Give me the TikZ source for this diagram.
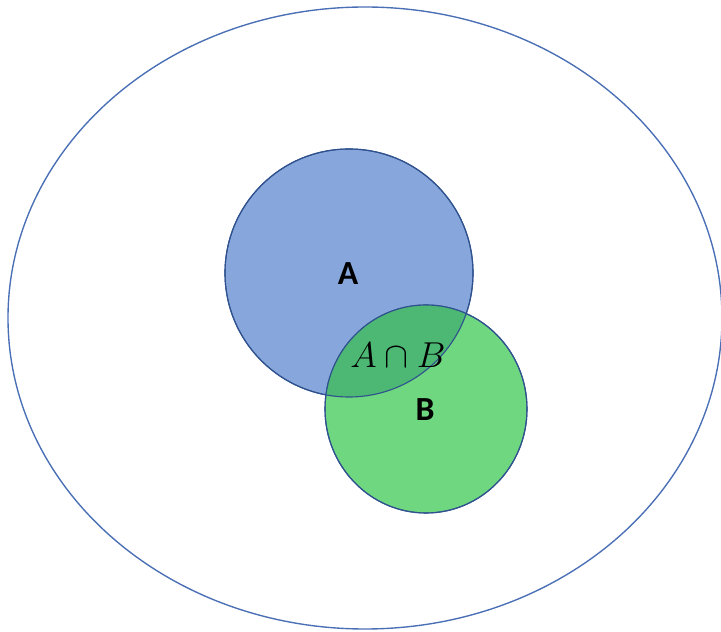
\documentclass[tikz,border=0pt]{standalone}
\usepackage{fontspec}
\newfontfamily\calibri{Carlito}
\definecolor{setblue}{HTML}{87A6DB}
\definecolor{setgreen}{HTML}{6ED780}
\definecolor{setboth}{HTML}{4CB874}
\definecolor{rimblue}{HTML}{2F528F}
\definecolor{outerblue}{HTML}{4A6FB5}
\tikzstyle{universe}=[draw=outerblue,line width=0.55pt]
\tikzstyle{set}=[draw=rimblue,line width=0.45pt]
\tikzstyle{setname}=[font=\calibri\fontsize{13.5}{15}\selectfont,inner sep=0pt]
\tikzstyle{both}=[font=\fontsize{13.5}{15}\selectfont,inner sep=0pt]
\newcommand{\setA}{(349,273) circle [radius=124]}
\newcommand{\setB}{(426,409) ellipse [x radius=101,y radius=104]}

\begin{document}
\begin{tikzpicture}[x=0.4pt,y=-0.4pt]
    \useasboundingbox (0,0) rectangle (721,632);
    \path[universe] (365,318) ellipse [x radius=357,y radius=311];
    \path[set,fill=setblue] \setA;
    \path[set,fill=setgreen] \setB;
    \begin{scope}
        \clip \setA;
        \fill[setboth] \setB;
    \end{scope}
    \path[set] \setA;
    \path[set] \setB;
    \node[setname] (a) at (348,274) {\textbf{A}};
    \node[setname] (b) at (425,410) {\textbf{B}};
    \node[both] (ab) at (398,355) {$A\cap B$};
\end{tikzpicture}
\end{document}
